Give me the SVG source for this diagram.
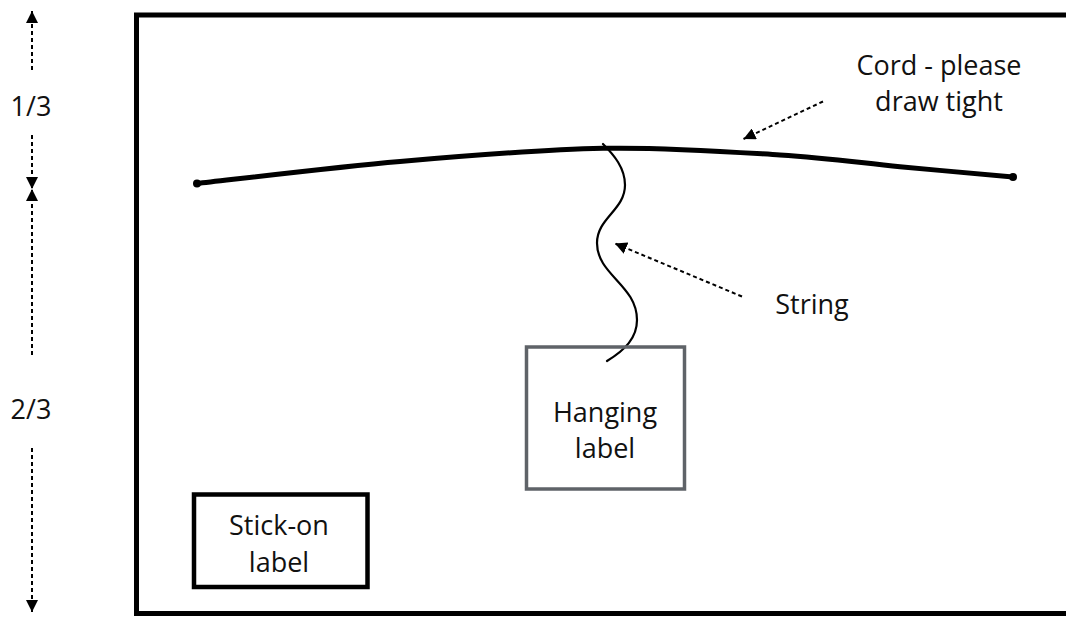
<svg xmlns="http://www.w3.org/2000/svg" width="1066" height="617" viewBox="0 0 1066 617">
  <style>
    text { font-family: "Open Sans", "Noto Sans", "DejaVu Sans", sans-serif; font-size: 27px; fill: #111; text-anchor: middle; }
    .dash { fill: none; stroke: #000; stroke-width: 2; stroke-dasharray: 4 3; }
    .cord { fill: none; stroke: #000; stroke-width: 5; stroke-linecap: round; stroke-linejoin: round; }
    .string { fill: none; stroke: #000; stroke-width: 2.2; stroke-linecap: round; }
  </style>
  <defs>
    <marker id="ah" viewBox="0 0 10 10" refX="10" refY="5" markerWidth="12" markerHeight="12" markerUnits="userSpaceOnUse" orient="auto">
      <path d="M0,0 L10,5 L0,10 Z" fill="#000"/>
    </marker>
  </defs>
  <rect width="1066" height="617" fill="#fff"/>

  <g id="frame">
    <rect x="136.5" y="15" width="1000" height="598.5" fill="none" stroke="#000" stroke-width="5"/>
  </g>

  <g id="cord">
    <path class="cord" d="M197,183.5 C230.8,179.8 332.3,167.4 400,161.5 C467.7,155.6 539.7,149.55 603,148.3 C666.3,147.05 730.5,151.9 780,155 C829.5,158.07 861.2,163 900,166.7 C938.8,170.4 994.2,175.3 1013,177"/>
    <circle cx="197" cy="183.5" r="4" fill="#000"/>
    <circle cx="1013" cy="177" r="4" fill="#000"/>
  </g>

  <g id="string">
    <path class="string" d="M603,144 C614,155 625,168 625,185 C625,210 597,218 597,243 C597,275 637,285 637,320 C637,338 625,350 607,361"/>
  </g>

  <g id="hanging-label">
    <rect x="526.5" y="347" width="158" height="142" fill="none" stroke="#5f6368" stroke-width="3.5"/>
    <text x="605" y="421.5">Hanging</text>
    <text x="605" y="458">label</text>
  </g>

  <g id="stick-on-label">
    <rect x="194" y="494.5" width="173.5" height="92.5" fill="none" stroke="#000" stroke-width="4.5"/>
    <text x="279" y="535">Stick-on</text>
    <text x="279" y="571.5">label</text>
  </g>

  <g id="cord-note">
    <text x="939" y="75">Cord - please</text>
    <text x="939" y="111">draw tight</text>
  </g>

  <g id="string-note">
    <text x="812" y="314">String</text>
  </g>

  <g id="dimensions">
    <text x="31" y="116">1/3</text>
    <text x="31" y="419">2/3</text>
  </g>

  <g id="connectors">
    <line class="dash" x1="823" y1="101.5" x2="743.5" y2="139" marker-end="url(#ah)"/>
    <line class="dash" x1="742" y1="296.5" x2="615" y2="243.5" marker-end="url(#ah)"/>
    <line class="dash" x1="32" y1="70" x2="32" y2="11" marker-end="url(#ah)"/>
    <line class="dash" x1="32" y1="135" x2="32" y2="189" marker-end="url(#ah)"/>
    <line class="dash" x1="32" y1="355" x2="32" y2="189" marker-end="url(#ah)"/>
    <line class="dash" x1="32" y1="448" x2="32" y2="612" marker-end="url(#ah)"/>
  </g>
</svg>
